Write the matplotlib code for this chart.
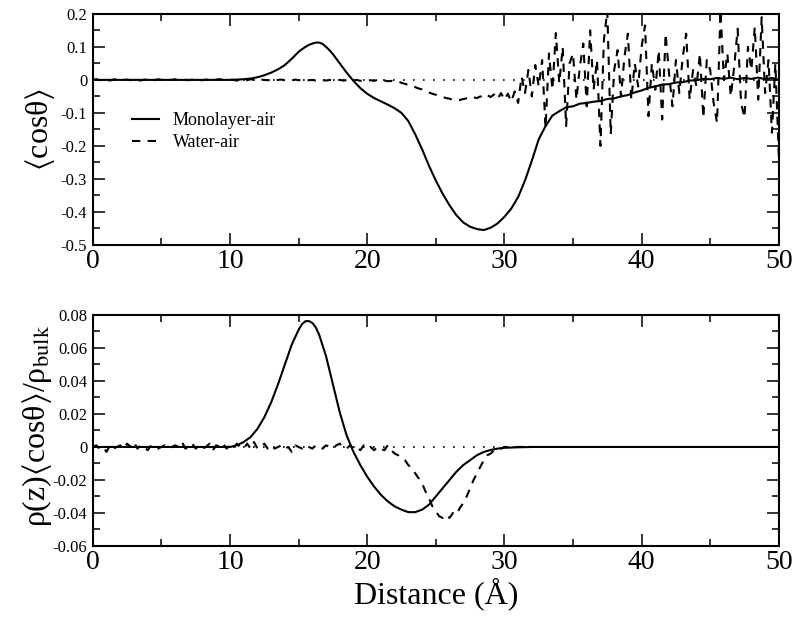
import numpy as np
import matplotlib
matplotlib.use("Agg")
import matplotlib.pyplot as plt
from matplotlib.ticker import MultipleLocator, FuncFormatter

plt.rcParams['font.family'] = ['Liberation Serif', 'DejaVu Serif']
plt.rcParams['mathtext.fontset'] = 'stix'
plt.rcParams['axes.unicode_minus'] = False

# ---- top panel: <cos theta> ----
x_mono_top = [0, 5, 10, 11, 11.5, 12, 12.5, 13, 13.5, 14, 14.5, 15, 15.25, 15.5, 15.75,
              16, 16.25, 16.5, 16.75, 17, 17.25, 17.5, 18, 18.5, 19, 19.5, 20, 20.5,
              21, 21.5, 22, 22.5, 23, 23.5, 24, 24.5, 25, 25.5, 26, 26.5, 27, 27.5,
              28, 28.5, 29, 29.5, 30, 30.5, 31, 31.5, 32, 32.5, 33, 33.5, 34, 34.5,
              35, 35.5, 36, 36.5, 37, 37.5, 38, 38.5, 39, 39.5, 40, 40.5, 41, 41.5,
              42, 42.5, 43, 43.5, 44, 44.5, 45, 45.5, 46, 46.5, 47, 47.5, 48, 48.5,
              49, 49.5, 50]
y_mono_top = [0, 0, 0, 0.002, 0.004, 0.008, 0.014, 0.022, 0.032, 0.045, 0.064, 0.085,
              0.093, 0.100, 0.106, 0.110, 0.113, 0.113, 0.109, 0.100, 0.090, 0.078,
              0.050, 0.022, -0.003, -0.025, -0.042, -0.055, -0.065, -0.075, -0.086,
              -0.100, -0.125, -0.165, -0.210, -0.260, -0.305, -0.345, -0.380, -0.410,
              -0.432, -0.445, -0.452, -0.455, -0.448, -0.435, -0.415, -0.390, -0.355,
              -0.305, -0.245, -0.180, -0.140, -0.108, -0.095, -0.083, -0.080, -0.072,
              -0.070, -0.066, -0.064, -0.058, -0.056, -0.050, -0.046, -0.038, -0.032,
              -0.024, -0.020, -0.014, -0.013, -0.008, -0.007, -0.002, -0.001, 0.003,
              0.002, 0.006, 0.003, 0.007, 0.002, 0.006, 0.003, 0.007, 0.002, 0.006, 0.0]

x_water_top = np.arange(0, 50.01, 0.25)
y_water_top = [
    0.000, 0.002, -0.001, 0.001,   # 0
    0.000, -0.002, 0.001, 0.002,   # 1
    -0.001, 0.000, 0.001, -0.001,  # 2
    0.002, 0.000, -0.002, 0.001,   # 3
    0.000, 0.001, -0.001, 0.002,   # 4
    0.000, -0.001, 0.001, 0.000,   # 5
    0.002, -0.002, 0.001, 0.000,   # 6
    -0.001, 0.001, 0.002, 0.000,   # 7
    -0.001, 0.001, 0.000, -0.002,  # 8
    0.001, 0.002, 0.000, -0.001,   # 9
    0.001, 0.000, -0.002, 0.001,   # 10
    0.000, -0.001, 0.002, 0.000,   # 11
    -0.002, 0.001, 0.000, -0.001,  # 12
    0.001, -0.002, 0.000, 0.001,   # 13
    -0.001, 0.000, -0.002, 0.001,  # 14
    -0.001, 0.000, -0.002, -0.001, # 15
    0.000, -0.002, 0.001, -0.001,  # 16
    -0.002, 0.000, -0.001, -0.003, # 17
    0.000, -0.002, -0.001, 0.001,  # 18
    -0.002, 0.000, -0.003, -0.001, # 19
    -0.002, -0.001, -0.003, 0.000, # 20
    -0.003, -0.002, -0.004, -0.003,  # 21
    -0.006, -0.005, -0.009, -0.012,  # 22
    -0.015, -0.018, -0.022, -0.026,  # 23
    -0.029, -0.034, -0.038, -0.042,  # 24
    -0.045, -0.049, -0.052, -0.055,  # 25
    -0.057, -0.060, -0.059, -0.061,  # 26
    -0.058, -0.056, -0.058, -0.053,  # 27
    -0.055, -0.050, -0.054, -0.046,  # 28
    -0.052, -0.044, -0.058, -0.040,  # 29
    -0.060, -0.042, -0.066, -0.035,  # 30
    -0.070, 0.010, -0.040, 0.030,    # 31
    -0.050, 0.045, -0.020, 0.060,    # 32
    -0.145, 0.080, -0.030, 0.142,    # 33
    -0.010, 0.100, -0.140, 0.050,    # 34
    0.080, -0.060, 0.040, 0.110,     # 35
    -0.080, 0.150, -0.030, 0.060,    # 36
    -0.200, 0.120, 0.210, -0.165,    # 37
    0.030, 0.090, -0.050, 0.070,     # 38
    0.140, -0.060, 0.050, -0.020,    # 39
    0.100, 0.165, -0.110, 0.050,     # 40
    -0.030, 0.090, -0.120, 0.140,    # 41
    0.020, -0.080, 0.060, -0.040,    # 42
    0.070, 0.140, -0.060, 0.030,     # 43
    -0.020, 0.080, -0.115, 0.060,    # 44
    0.030, -0.070, -0.130, 0.210,    # 45
    0.000, 0.080, -0.050, 0.040,     # 46
    0.155, -0.070, -0.115, 0.100,    # 47
    0.030, 0.160, -0.060, 0.190,     # 48
    -0.040, 0.060, -0.160, 0.050,    # 49
    -0.230]                          # 50

# ---- bottom panel: rho(z)<cos theta>/rho_bulk ----
x_mono_bot = [0, 10, 10.5, 11, 11.5, 12, 12.5, 13, 13.5, 14, 14.5, 15, 15.25, 15.5,
              15.75, 16, 16.25, 16.5, 17, 17.5, 18, 18.5, 19, 19.5, 20, 20.5, 21, 21.5,
              22, 22.5, 23, 23.5, 24, 24.5, 25, 25.5, 26, 26.5, 27, 27.5, 28, 28.5,
              29, 29.5, 30, 31, 32, 50]
y_mono_bot = [0, 0, 0.001, 0.003, 0.006, 0.011, 0.018, 0.027, 0.038, 0.050, 0.062,
              0.071, 0.0745, 0.0762, 0.0763, 0.0752, 0.0725, 0.068, 0.055, 0.038, 0.021,
              0.007, -0.003, -0.011, -0.018, -0.024, -0.029, -0.033, -0.036, -0.038,
              -0.0395, -0.0395, -0.038, -0.035, -0.030, -0.025, -0.020, -0.015, -0.011,
              -0.008, -0.005, -0.003, -0.0018, -0.001, -0.0005, -0.0002, 0, 0]

x_water_bot = np.arange(0, 32.01, 0.25)
y_water_bot = [
    0.000, 0.001, -0.001, 0.000,   # 0
    -0.003, 0.001, -0.001, 0.000,  # 1
    0.001, -0.001, 0.002, 0.000,   # 2
    0.003, -0.001, 0.001, 0.000,   # 3
    -0.002, 0.001, 0.000, -0.001,  # 4
    0.000, 0.001, -0.001, 0.000,   # 5
    0.001, 0.000, 0.003, -0.001,   # 6
    0.000, 0.002, -0.001, 0.001,   # 7
    -0.001, 0.000, 0.002, -0.002,  # 8
    0.001, 0.000, 0.002, -0.001,   # 9
    0.001, -0.001, 0.002, 0.000,   # 10
    -0.001, 0.002, -0.001, 0.003,  # 11
    -0.001, 0.000, 0.002, -0.001,  # 12
    0.001, -0.001, 0.000, 0.001,   # 13
    -0.001, 0.000, -0.003, 0.001,  # 14
    0.000, -0.001, 0.001, 0.000,   # 15
    -0.001, 0.001, 0.000, -0.001,  # 16
    0.001, 0.000, -0.001, 0.001,   # 17
    0.002, 0.000, -0.001, 0.001,   # 18
    -0.001, 0.000, -0.002, 0.001,  # 19
    -0.001, 0.000, -0.002, 0.000,  # 20
    -0.001, -0.002, 0.001, -0.002, # 21
    -0.004, -0.005, -0.007, -0.008, # 22
    -0.011, -0.013, -0.016, -0.019, # 23
    -0.022, -0.027, -0.031, -0.036, # 24
    -0.039, -0.042, -0.043, -0.041, # 25
    -0.043, -0.040, -0.041, -0.037, # 26
    -0.034, -0.030, -0.025, -0.020, # 27
    -0.016, -0.012, -0.008, -0.005, # 28
    -0.004, -0.002, -0.001, -0.001, # 29
    0.000, 0.000, 0.000, 0.000,     # 30
    0.000, 0.000, 0.000, 0.000,     # 31
    0.000]                          # 32

labels = ["Monolayer-air", "Water-air"]
xticks = [0, 10, 20, 30, 40, 50]


def fmt(v, pos):
    v = round(v, 4)
    return "0" if v == 0 else "%g" % v


def style_axis(ax, ylo, yhi, major, minor):
    ax.set_xlim(0, 50)
    ax.set_ylim(ylo, yhi)
    ax.set_xticks(xticks)
    ax.xaxis.set_minor_locator(MultipleLocator(5))
    ax.yaxis.set_major_locator(MultipleLocator(major))
    ax.yaxis.set_minor_locator(MultipleLocator(minor))
    ax.yaxis.set_major_formatter(FuncFormatter(fmt))
    ax.tick_params(which='both', direction='in', top=True, right=True, width=1.1)
    ax.tick_params(which='major', length=8.5)
    ax.tick_params(which='minor', length=5)
    ax.tick_params(axis='x', labelsize=20, pad=3)
    ax.tick_params(axis='y', labelsize=12, pad=4)
    for s in ax.spines.values():
        s.set_linewidth(1.5)
    ax.axhline(0, color='black', lw=1.2, ls=(0, (1, 5)), zorder=1)


fig = plt.figure(figsize=(8, 6.2), dpi=100)
ax1 = fig.add_axes([0.116, 0.605, 0.8575, 0.3726])
ax2 = fig.add_axes([0.116, 0.1194, 0.8575, 0.3726])

ax1.plot(x_mono_top, y_mono_top, color='black', lw=1.5, label=labels[0])
ax1.plot(x_water_top, y_water_top, color='black', lw=1.5, ls=(0, (4, 3.5)), label=labels[1])
style_axis(ax1, -0.5, 0.2, 0.1, 0.05)
ax1.set_ylabel(r'$\langle$cosθ$\rangle$', fontsize=23)
ax1.yaxis.set_label_coords(-0.052, 0.5)
ax1.legend(loc='center left', bbox_to_anchor=(0.057, 0.49), frameon=False,
           fontsize=13, handlelength=1.5, handletextpad=0.75, labelspacing=0.3,
           borderpad=0, borderaxespad=0)

ax2.plot(x_mono_bot, y_mono_bot, color='black', lw=1.5)
ax2.plot(x_water_bot, y_water_bot, color='black', lw=1.5, ls=(0, (4, 3.5)))
style_axis(ax2, -0.06, 0.08, 0.02, 0.01)
ax2.set_ylabel(r'ρ(z)$\langle$cosθ$\rangle$/ρ$_{\mathrm{bulk}}$', fontsize=23)
ax2.yaxis.set_label_coords(-0.056, 0.52)
ax2.set_xlabel('Distance (Å)', fontsize=23, labelpad=2)

fig.savefig('out.png', dpi=100)
